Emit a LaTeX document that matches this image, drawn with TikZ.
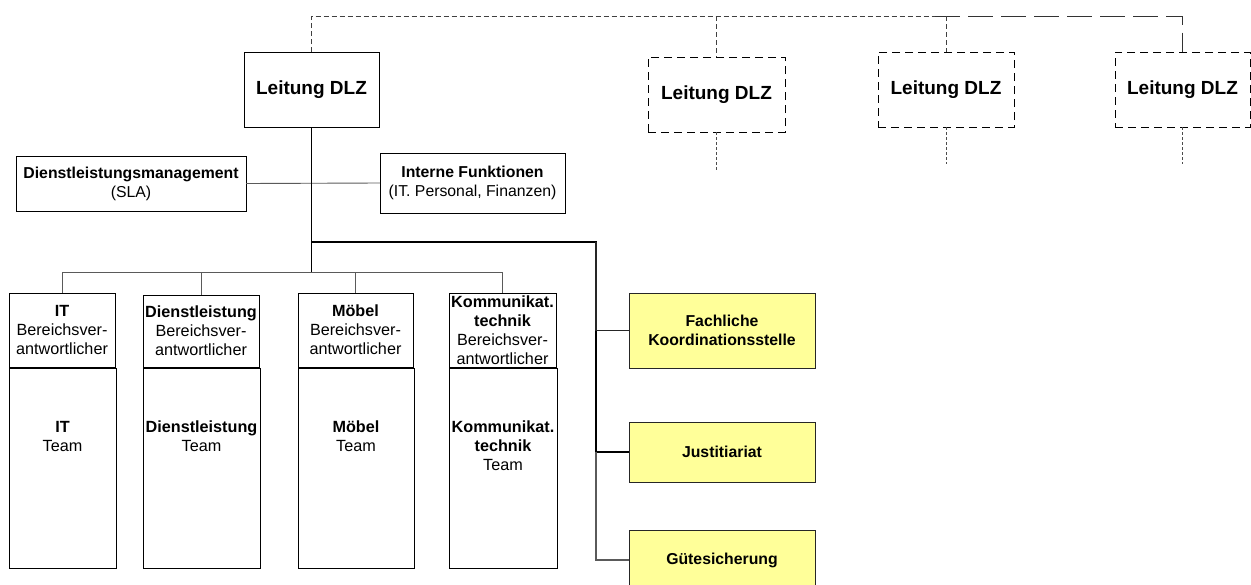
\documentclass[tikz,border=0pt]{standalone}
\usepackage{fontspec}
\setmainfont{Liberation Sans}
\definecolor{notefill}{RGB}{255,255,153}
\definecolor{linegray}{RGB}{90,90,90}
\begin{document}
\begin{tikzpicture}[x=1pt,y=-1pt,
  every node/.style={inner sep=0pt, outer sep=0pt, align=center},
  txt/.style={font=\fontsize{15.8}{19}\selectfont},
  coltxt/.style={font=\fontsize{16.2}{19}\selectfont},
  head/.style={draw=black, line width=1pt, font=\bfseries\fontsize{19}{22}\selectfont},
  headdash/.style={head, line width=0.9pt, dash pattern=on 8pt off 5pt},
  unit/.style={draw=black, line width=1pt, txt},
  colhead/.style={draw=black, line width=1pt, coltxt},
  teambox/.style={draw=black, line width=1pt},
  staff/.style={draw=black!85, line width=1pt, fill=notefill, font=\bfseries\fontsize{15.8}{19}\selectfont},
  trunk/.style={line width=1.8pt, black},
  twig/.style={line width=0.9pt, linegray},
  peer/.style={line width=0.8pt, black!75, dash pattern=on 5pt off 3pt},
  peerlong/.style={line width=0.9pt, black!80, dash pattern=on 25pt off 8pt},
  stub/.style={line width=0.7pt, black!70, dash pattern=on 3pt off 2pt}]
\useasboundingbox (0,0) rectangle (1251,584);

% management boxes
\node[head, minimum width=135pt, minimum height=75pt] (lead) at (311.5,89.5) {Leitung DLZ};
\node[headdash, minimum width=137pt, minimum height=75pt] (lead2) at (716.5,94.5) {Leitung DLZ};
\node[headdash, minimum width=136pt, minimum height=75pt] (lead3) at (946,89.5) {Leitung DLZ};
\node[headdash, minimum width=135pt, minimum height=75pt] (lead4) at (1182.5,89.5) {Leitung DLZ};

% peer connections along the top
\coordinate (p0) at (311.5,16);
\coordinate (p2) at (716.5,16);
\coordinate (p3) at (946,16);
\coordinate (pm) at (935,16);
\coordinate (p4) at (1182.5,16);
\draw[peer] (lead.north) -- (p0) -- (pm);
\draw[peerlong] (pm) -- (p4) -- (lead4.north);
\draw[peer] (p2) -- (lead2.north);
\draw[peer] (p3) -- (lead3.north);
\coordinate (s2) at (716.5,170);
\coordinate (s3) at (946,164);
\coordinate (s4) at (1182.5,164);
\draw[stub] (lead2.south) -- (s2);
\draw[stub] (lead3.south) -- (s3);
\draw[stub] (lead4.south) -- (s4);

% side functions
\node[unit, minimum width=230pt, minimum height=55pt] (dlm) at (131,183.5)
  {\textbf{Dienstleistungsmanagement}\\(SLA)};
\node[unit, minimum width=185pt, minimum height=60pt] (intf) at (472.5,183)
  {\textbf{Interne Funktionen}\\(IT. Personal, Finanzen)};
\draw[twig] (dlm.east) -- (intf.west);

% area heads
\node[colhead, minimum width=106pt, minimum height=74pt] (hIT) at (62,330)
  {\textbf{IT}\\Bereichsver-\\antwortlicher};
\node[colhead, minimum width=116pt, minimum height=72pt] (hDL) at (201,331)
  {\textbf{Dienstleistung}\\Bereichsver-\\antwortlicher};
\node[colhead, minimum width=115pt, minimum height=74pt] (hMO) at (355.5,330)
  {\textbf{Möbel}\\Bereichsver-\\antwortlicher};
\node[colhead, minimum width=107pt, minimum height=74pt] (hKT) at (502.5,330)
  {\textbf{Kommunikat.}\\\textbf{technik}\\Bereichsver-\\antwortlicher};

% teams
\node[teambox, minimum width=107pt, minimum height=200pt] (tIT) at (62.5,468) {};
\node[teambox, minimum width=117pt, minimum height=200pt] (tDL) at (201.5,468) {};
\node[teambox, minimum width=116pt, minimum height=200pt] (tMO) at (356,468) {};
\node[teambox, minimum width=108pt, minimum height=200pt] (tKT) at (503,468) {};
\node[coltxt] (lIT) at (62.5,436.5) {\textbf{IT}\\Team};
\node[coltxt] (lDL) at (201.5,436.5) {\textbf{Dienstleistung}\\Team};
\node[coltxt] (lMO) at (356,436.5) {\textbf{Möbel}\\Team};
\node[coltxt] (lKT) at (503,446) {\textbf{Kommunikat.}\\\textbf{technik}\\Team};

% staff units
\node[staff, minimum width=186pt, minimum height=75pt] (fks) at (722,330.5)
  {Fachliche\\Koordinationsstelle};
\node[staff, minimum width=186pt, minimum height=60pt] (jus) at (722,452) {Justitiariat};
\node[staff, minimum width=186pt, minimum height=60pt] (gue) at (722,560) {Gütesicherung};

% hierarchy lines
\coordinate (j1) at (311.5,242);
\coordinate (j2) at (596,242);
\coordinate (j3) at (311.5,272);
\draw[trunk] (lead.south) -- (j3);
\draw[trunk] (j1) -- (j2) |- (jus.west);
\draw[line width=1.1pt, black!85] (j2) |- (fks.west);
\draw[line width=1.3pt, linegray] (jus.west -| j2) |- (gue.west);
\draw[twig] (hIT.north) -- (hIT.north |- j3) -- (hKT.north |- j3) -- (hKT.north);
\draw[twig] (hDL.north) -- (hDL.north |- j3);
\draw[twig] (hMO.north) -- (hMO.north |- j3);
\end{tikzpicture}
\end{document}
